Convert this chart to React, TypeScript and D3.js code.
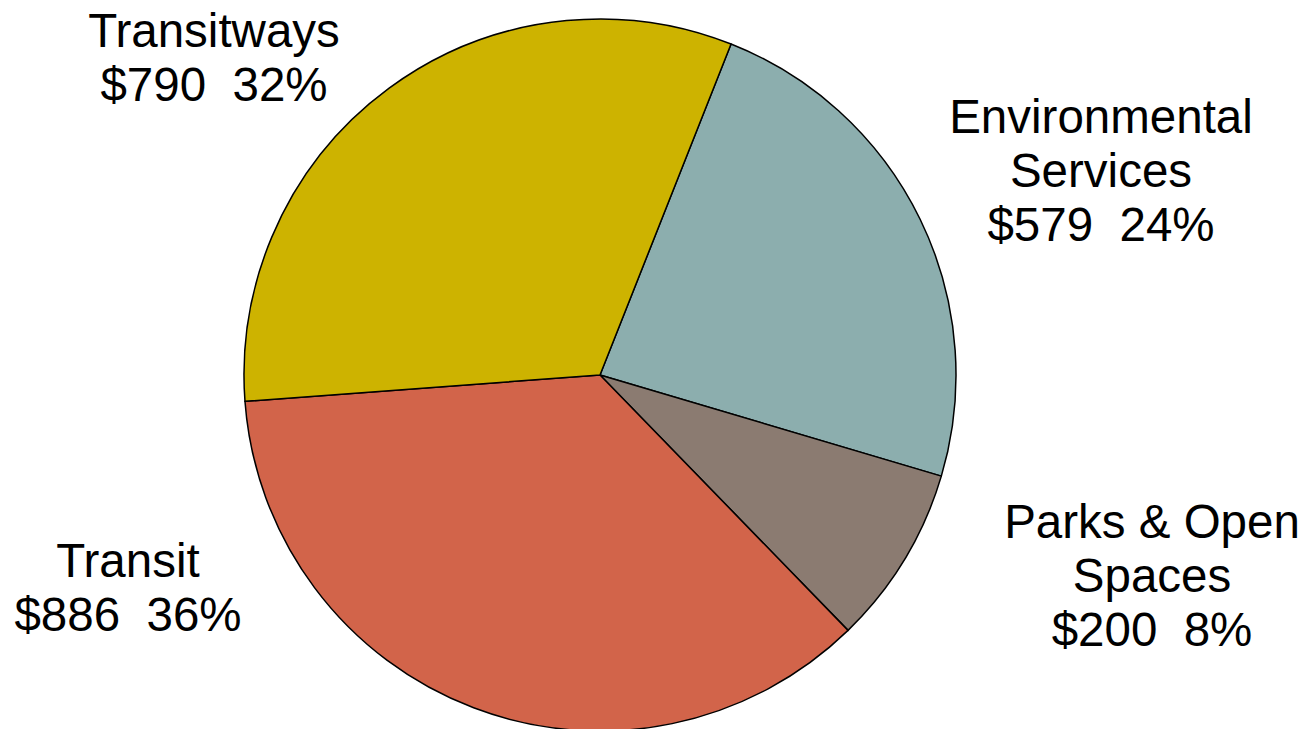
import * as d3 from "d3";
import React, { useEffect, useRef } from "react";

// slices in clockwise order, starting at the Transitways/Environmental edge
const categories = ["Environmental Services", "Parks & Open Spaces", "Transit", "Transitways"];
const amounts = [579, 200, 886, 790];
const percents = ["24%", "8%", "36%", "32%"];
const sliceColors = ["#8CAEAE", "#8B7B71", "#D2644A", "#CDB300"];
// label lines per slice
const labelLines = [
  ["Environmental", "Services"],
  ["Parks & Open", "Spaces"],
  ["Transit"],
  ["Transitways"],
];
// label anchor (center x, first baseline y)
const labelPos: [number, number][] = [
  [1101, 133],
  [1152, 538],
  [128, 577],
  [214, 47],
];

const width = 1311;
const height = 729;

const PieChart: React.FC = () => {
  const ref = useRef<SVGSVGElement | null>(null);

  useEffect(() => {
    if (!ref.current) return;
    const svg = d3.select(ref.current);
    svg.selectAll("*").remove();

    const cx = 600;
    const cy = 375;
    const radius = 356;
    const start = (21.6 * Math.PI) / 180;

    const pie = d3
      .pie<number>()
      .sort(null)
      .value((d) => d)
      .startAngle(start)
      .endAngle(start + 2 * Math.PI);
    const arcs = pie(amounts);

    const arc = d3.arc<d3.PieArcDatum<number>>().innerRadius(0).outerRadius(radius);

    const g = svg.append("g").attr("transform", `translate(${cx},${cy})`);
    g.selectAll("path")
      .data(arcs)
      .enter()
      .append("path")
      .attr("d", arc as any)
      .attr("fill", (_d, i) => sliceColors[i])
      .attr("stroke", "#000")
      .attr("stroke-width", 1.5)
      .attr("stroke-linejoin", "round");

    const lineH = 54;
    categories.forEach((_c, i) => {
      const [x, y] = labelPos[i];
      const lines = [...labelLines[i], `$${amounts[i]}  ${percents[i]}`];
      const t = svg
        .append("text")
        .attr("text-anchor", "middle")
        .attr("font-family", "Liberation Sans, Arial, sans-serif")
        .attr("font-size", 47.5)
        .attr("fill", "#000")
        .style("white-space", "pre");
      lines.forEach((l, j) => {
        t.append("tspan").attr("x", x).attr("y", y + j * lineH).text(l);
      });
    });
  }, []);

  return (
    <svg
      ref={ref}
      width={width}
      height={height}
      style={{ position: "absolute", left: 0, top: 0, background: "#fff" }}
    ></svg>
  );
};

export default function App() {
  return <PieChart />;
}
